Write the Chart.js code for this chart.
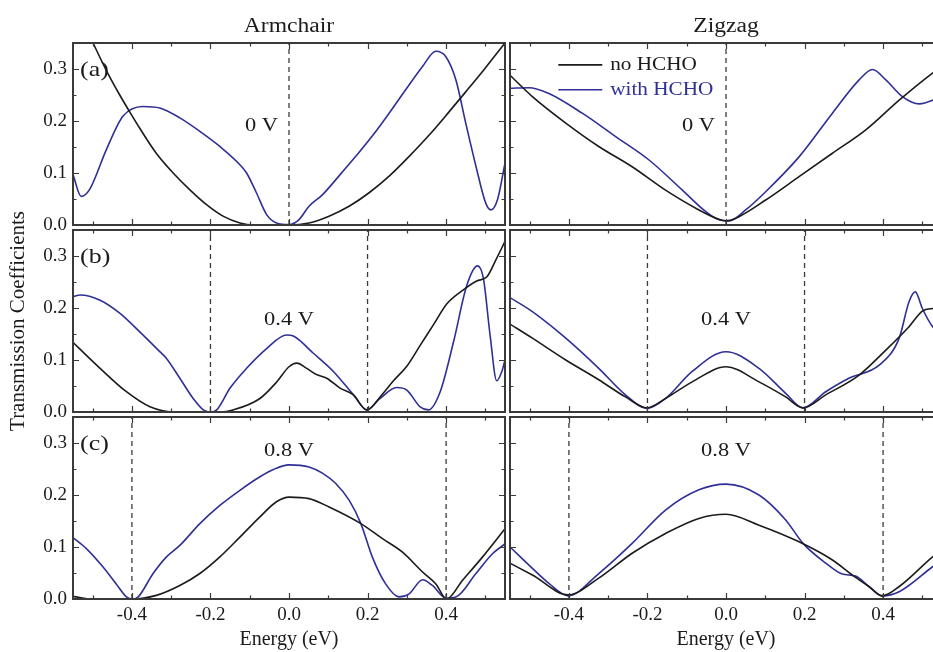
<!DOCTYPE html>
<html>
<head>
<meta charset="utf-8">
<title>Transmission coefficients, armchair / zigzag</title>
<script src="https://cdn.jsdelivr.net/npm/chart.js@4.4.0/dist/chart.umd.min.js"></script>
<style>
    html, body { margin: 0; padding: 0; background: #fff; }
    #wrap { position: relative; width: 933px; height: 652px; overflow: hidden; }
    #wrap canvas { position: absolute; }
</style>
</head>
<body>
<div id="wrap">
    <canvas id="armA"></canvas>
    <canvas id="armC"></canvas>
    <canvas id="armB"></canvas>
    <canvas id="zigA"></canvas>
    <canvas id="zigC"></canvas>
    <canvas id="zigB"></canvas>
</div>
<script>
var serif = '"Liberation Serif", "Times New Roman", serif';
var inkBlack = '#1b1b1b';
var inkBlue = '#2f2f96';
var frameGray = '#3a3a3a';
var textStretch = 1.18;   // the figure's lettering is a bit wide

// axes
var energyMin = -0.55, energyMax = 0.55;
var transMin = 0, transMax = 0.35;
var energyMajorTicks = [-0.4, -0.2, 0, 0.2, 0.4];
var energyMinorTicks = [-0.5, -0.3, -0.1, 0.1, 0.3, 0.5];
var transMajorTicks = [0, 0.1, 0.2, 0.3];
var transMinorTicks = [0.05, 0.15, 0.25];

// text
var columnTitles = ['Armchair', 'Zigzag'];
var panelTags = ['(a)', '(b)', '(c)'];
var biasLabels = ['0 V', '0.4 V', '0.8 V'];
var seriesNames = ['no HCHO', 'with HCHO'];
var energyAxisTitle = 'Energy (eV)';
var transAxisTitle = 'Transmission Coefficients';

// dashed bias window markers
var biasMarks0 = [0];
var biasMarks04 = [-0.2, 0.2];
var biasMarks08 = [-0.4, 0.4];

// ---- Armchair, 0 V
var armA_E_no = [-0.55, -0.499, -0.465, -0.431, -0.406, -0.38, -0.338, -0.295, -0.253, -0.21, -0.168, -0.125, -0.091, -0.04, 0.0, 0.051, 0.102, 0.153, 0.204, 0.255, 0.306, 0.357, 0.408, 0.45, 0.50, 0.55];
var armA_T_no = [0.43, 0.35, 0.297, 0.25, 0.218, 0.186, 0.138, 0.1, 0.068, 0.039, 0.017, 0.004, 0.0, 0.0, 0.0, 0.004, 0.017, 0.036, 0.062, 0.094, 0.132, 0.173, 0.218, 0.256, 0.302, 0.35];
var armA_E_with = [-0.55, -0.529, -0.508, -0.465, -0.423, -0.372, -0.329, -0.278, -0.227, -0.176, -0.125, -0.108, -0.083, -0.057, -0.032, 0.0, 0.025, 0.051, 0.085, 0.127, 0.17, 0.212, 0.255, 0.297, 0.34, 0.374, 0.399, 0.425, 0.45, 0.476, 0.501, 0.514, 0.531, 0.55];
var armA_T_with = [0.097, 0.055, 0.068, 0.145, 0.209, 0.228, 0.225, 0.206, 0.18, 0.151, 0.116, 0.1, 0.062, 0.02, 0.004, 0.001, 0.01, 0.036, 0.058, 0.094, 0.132, 0.171, 0.215, 0.26, 0.305, 0.334, 0.324, 0.279, 0.196, 0.113, 0.042, 0.029, 0.049, 0.119];

// ---- Armchair, 0.4 V
var armB_E_no = [-0.55, -0.481, -0.414, -0.354, -0.295, -0.227, -0.176, -0.142, -0.074, -0.031, 0.0, 0.02, 0.045, 0.07, 0.096, 0.13, 0.164, 0.198, 0.232, 0.266, 0.3, 0.334, 0.368, 0.402, 0.444, 0.478, 0.504, 0.529, 0.55];
var armB_T_no = [0.134, 0.084, 0.039, 0.01, 0.0, 0.0, 0.0, 0.004, 0.026, 0.058, 0.087, 0.094, 0.084, 0.072, 0.065, 0.046, 0.033, 0.004, 0.029, 0.06, 0.088, 0.128, 0.168, 0.208, 0.235, 0.252, 0.26, 0.296, 0.328];
var armB_E_with = [-0.55, -0.532, -0.481, -0.431, -0.38, -0.329, -0.312, -0.278, -0.244, -0.218, -0.2, -0.184, -0.15, -0.108, -0.057, -0.006, 0.011, 0.062, 0.113, 0.164, 0.198, 0.232, 0.274, 0.3, 0.334, 0.355, 0.385, 0.419, 0.453, 0.48, 0.495, 0.512, 0.529, 0.542, 0.55];
var armB_T_with = [0.222, 0.225, 0.215, 0.19, 0.154, 0.116, 0.103, 0.065, 0.026, 0.004, 0.0, 0.004, 0.046, 0.084, 0.122, 0.148, 0.146, 0.113, 0.078, 0.033, 0.004, 0.026, 0.047, 0.042, 0.01, 0.004, 0.039, 0.135, 0.244, 0.281, 0.257, 0.148, 0.06, 0.078, 0.1];

// ---- Armchair, 0.8 V
var armC_E_no = [-0.55, -0.499, -0.45, -0.40, -0.338, -0.278, -0.227, -0.176, -0.125, -0.074, -0.032, 0.0, 0.051, 0.102, 0.183, 0.238, 0.289, 0.34, 0.374, 0.401, 0.442, 0.493, 0.55];
var armC_T_no = [0.005, 0.0, 0.0, 0.0, 0.007, 0.026, 0.049, 0.081, 0.119, 0.158, 0.187, 0.196, 0.193, 0.177, 0.145, 0.116, 0.09, 0.052, 0.029, 0.0, 0.036, 0.081, 0.135];
var armC_E_with = [-0.55, -0.516, -0.474, -0.44, -0.414, -0.397, -0.384, -0.346, -0.312, -0.278, -0.227, -0.176, -0.125, -0.074, -0.04, 0.0, 0.051, 0.085, 0.119, 0.153, 0.183, 0.212, 0.246, 0.28, 0.306, 0.34, 0.365, 0.399, 0.425, 0.476, 0.518, 0.55];
var armC_T_with = [0.118, 0.097, 0.062, 0.029, 0.004, 0.0, 0.004, 0.049, 0.081, 0.103, 0.145, 0.18, 0.209, 0.235, 0.249, 0.258, 0.254, 0.242, 0.222, 0.19, 0.145, 0.081, 0.029, 0.004, 0.01, 0.037, 0.026, 0.002, 0.004, 0.049, 0.087, 0.106];

// ---- Zigzag, 0 V
var zigA_E_no = [-0.55, -0.493, -0.408, -0.324, -0.239, -0.154, -0.069, -0.018, 0.0, 0.033, 0.101, 0.186, 0.271, 0.356, 0.441, 0.526, 0.56];
var zigA_T_no = [0.288, 0.247, 0.196, 0.151, 0.112, 0.067, 0.029, 0.011, 0.008, 0.016, 0.048, 0.093, 0.138, 0.183, 0.24, 0.292, 0.31];
var zigA_E_with = [-0.55, -0.502, -0.451, -0.366, -0.281, -0.196, -0.111, -0.052, -0.018, 0.008, 0.05, 0.101, 0.186, 0.271, 0.339, 0.373, 0.407, 0.449, 0.492, 0.526, 0.55];
var zigA_T_with = [0.263, 0.264, 0.253, 0.215, 0.17, 0.125, 0.067, 0.026, 0.01, 0.008, 0.029, 0.064, 0.131, 0.215, 0.279, 0.299, 0.279, 0.247, 0.233, 0.24, 0.25];

// ---- Zigzag, 0.4 V
var zigB_E_no = [-0.55, -0.493, -0.408, -0.324, -0.256, -0.201, -0.154, -0.086, 0.0, 0.084, 0.152, 0.196, 0.254, 0.339, 0.407, 0.466, 0.5, 0.526, 0.55];
var zigB_T_no = [0.169, 0.142, 0.1, 0.062, 0.029, 0.008, 0.026, 0.058, 0.087, 0.058, 0.029, 0.008, 0.033, 0.071, 0.119, 0.164, 0.194, 0.199, 0.2];
var zigB_E_with = [-0.55, -0.493, -0.408, -0.324, -0.256, -0.201, -0.154, -0.086, 0.0, 0.084, 0.152, 0.196, 0.254, 0.313, 0.39, 0.441, 0.466, 0.482, 0.5, 0.526, 0.55];
var zigB_T_with = [0.22, 0.193, 0.142, 0.084, 0.033, 0.007, 0.026, 0.078, 0.116, 0.084, 0.036, 0.008, 0.039, 0.065, 0.09, 0.142, 0.212, 0.231, 0.199, 0.164, 0.15];

// ---- Zigzag, 0.8 V
var zigC_E_no = [-0.55, -0.493, -0.402, -0.324, -0.239, -0.154, -0.069, 0.0, 0.084, 0.186, 0.271, 0.322, 0.364, 0.398, 0.441, 0.526, 0.55];
var zigC_T_no = [0.069, 0.046, 0.008, 0.04, 0.088, 0.126, 0.155, 0.163, 0.142, 0.11, 0.075, 0.046, 0.024, 0.006, 0.024, 0.081, 0.095];
var zigC_E_with = [-0.55, -0.493, -0.451, -0.402, -0.324, -0.239, -0.154, -0.069, 0.0, 0.084, 0.152, 0.196, 0.254, 0.296, 0.33, 0.364, 0.398, 0.441, 0.526, 0.55];
var zigC_T_with = [0.1, 0.059, 0.03, 0.006, 0.049, 0.107, 0.171, 0.21, 0.221, 0.2, 0.152, 0.107, 0.069, 0.048, 0.044, 0.024, 0.006, 0.014, 0.062, 0.075];


function toPoints(es, ts) {
    return es.map(function (e, i) {
        return {x: e, y: ts[i]};
    });
}

function wideText(ctx, text, px, py, align, size, color) {
    ctx.save();
    ctx.font = size + 'px ' + serif;
    ctx.fillStyle = color;
    ctx.textAlign = align;
    ctx.textBaseline = 'middle';
    ctx.translate(px, py);
    ctx.scale(textStretch, 1);
    ctx.fillText(text, 0, 0);
    ctx.restore();
}

// frame, inward ticks on four sides, and the panel lettering
var panelDecor = {
    id: 'panelDecor',
    afterDatasetsDraw: function (chart, args, opts) {
        var ctx = chart.ctx, a = chart.chartArea;
        var xs = chart.scales.x, ys = chart.scales.y;
        ctx.save();
        ctx.strokeStyle = frameGray;
        ctx.lineWidth = 1.2;
        ctx.beginPath();
        energyMajorTicks.concat(energyMinorTicks).forEach(function (v) {
            var px = Math.round(xs.getPixelForValue(v)) + 0.5;
            var len = energyMajorTicks.indexOf(v) >= 0 ? 6 : 3.5;
            ctx.moveTo(px, a.bottom); ctx.lineTo(px, a.bottom - len);
            ctx.moveTo(px, a.top); ctx.lineTo(px, a.top + len);
        });
        transMajorTicks.concat(transMinorTicks).forEach(function (v) {
            if (v === 0) return;
            var py = Math.round(ys.getPixelForValue(v)) + 0.5;
            var len = transMajorTicks.indexOf(v) >= 0 ? 6 : 3.5;
            ctx.moveTo(a.left, py); ctx.lineTo(a.left + len, py);
            ctx.moveTo(a.right, py); ctx.lineTo(a.right - len, py);
        });
        ctx.stroke();
        ctx.lineWidth = 2;
        ctx.strokeRect(a.left, a.top, a.right - a.left, a.bottom - a.top);
        ctx.restore();
    },
    afterDraw: function (chart, args, opts) {
        var ctx = chart.ctx, a = chart.chartArea;
        var xs = chart.scales.x, ys = chart.scales.y;
        if (opts.title) {
            wideText(ctx, opts.title, (a.left + a.right) / 2, a.top - 16, 'center', 20, inkBlack);
        }
        if (opts.tag) {
            wideText(ctx, opts.tag, xs.getPixelForValue(-0.532), ys.getPixelForValue(0.298), 'left', 22, inkBlack);
        }
        if (opts.bias) {
            wideText(ctx, opts.bias, xs.getPixelForValue(opts.biasAt[0]), ys.getPixelForValue(opts.biasAt[1]),
                opts.biasAlign, 19, inkBlack);
        }
        if (opts.legend) {
            var x0 = xs.getPixelForValue(-0.427), x1 = xs.getPixelForValue(-0.315), xt = xs.getPixelForValue(-0.295);
            var rows = [[0.308, inkBlack, seriesNames[0]], [0.26, inkBlue, seriesNames[1]]];
            rows.forEach(function (r) {
                var py = ys.getPixelForValue(r[0]);
                ctx.save();
                ctx.strokeStyle = r[1];
                ctx.lineWidth = 1.6;
                ctx.beginPath();
                ctx.moveTo(x0, py); ctx.lineTo(x1, py);
                ctx.stroke();
                ctx.restore();
                wideText(ctx, r[2], xt, py, 'left', 18, r[1]);
            });
        }
    }
};
Chart.register(panelDecor);

function buildPanel(canvasId, cfg) {
    var el = document.getElementById(canvasId);
    el.width = cfg.w;
    el.height = cfg.h;
    el.style.left = cfg.left + 'px';
    el.style.top = cfg.top + 'px';

    var datasets = [];
    datasets.push({
        label: seriesNames[0],
        data: toPoints(cfg.noE, cfg.noT),
        borderColor: inkBlack,
        borderWidth: 1.6,
        pointRadius: 0,
        cubicInterpolationMode: 'monotone'
    });
    datasets.push({
        label: seriesNames[1],
        data: toPoints(cfg.withE, cfg.withT),
        borderColor: inkBlue,
        borderWidth: 1.6,
        pointRadius: 0,
        cubicInterpolationMode: 'monotone'
    });
    cfg.marks.forEach(function (m) {
        datasets.push({
            label: 'bias',
            data: [{x: m, y: transMin}, {x: m, y: transMax}],
            borderColor: frameGray,
            borderWidth: 1.3,
            borderDash: [5, 4],
            pointRadius: 0
        });
    });

    return new Chart(el, {
        type: 'line',
        data: {datasets: datasets},
        options: {
            responsive: false,
            animation: false,
            devicePixelRatio: 1,
            layout: {padding: cfg.pad},
            plugins: {
                legend: {display: false},
                tooltip: {enabled: false},
                panelDecor: cfg.decor
            },
            scales: {
                x: {
                    type: 'linear',
                    min: energyMin,
                    max: energyMax,
                    grid: {display: false, drawTicks: false},
                    border: {display: false},
                    afterBuildTicks: function (s) {
                        s.ticks = energyMajorTicks.map(function (v) { return {value: v}; });
                    },
                    ticks: {
                        display: cfg.showX,
                        padding: 5,
                        maxRotation: 0,
                        autoSkip: false,
                        color: inkBlack,
                        font: {family: serif, size: 19},
                        callback: function (v) { return v.toFixed(1); }
                    },
                    title: {
                        display: cfg.showX,
                        text: energyAxisTitle,
                        color: inkBlack,
                        font: {family: serif, size: 20},
                        padding: {top: 0, bottom: 0}
                    },
                    afterFit: function (s) {
                        s.height = cfg.xAxisH;
                        s.paddingLeft = 0; s.paddingRight = 0;
                    }
                },
                y: {
                    type: 'linear',
                    min: transMin,
                    max: transMax,
                    grid: {display: false, drawTicks: false},
                    border: {display: false},
                    afterBuildTicks: function (s) {
                        s.ticks = transMajorTicks.map(function (v) { return {value: v}; });
                    },
                    ticks: {
                        display: cfg.showY,
                        padding: 6,
                        color: inkBlack,
                        font: {family: serif, size: 19},
                        callback: function (v) { return v.toFixed(1); }
                    },
                    title: {
                        display: !!cfg.yTitle,
                        text: transAxisTitle,
                        color: inkBlack,
                        font: {family: serif, size: 21},
                        padding: {top: 6, bottom: 0}
                    },
                    afterFit: function (s) {
                        s.width = cfg.yAxisW;
                        s.paddingTop = 0; s.paddingBottom = 0;
                    }
                }
            }
        }
    });
}

// column / row boxes (the middle row canvas is tall so the rotated axis title fits)
var leftCol = {left: 0, w: 510, yAxisW: 73, padL: 0, padR: 5, showY: true};
var rightCol = {left: 505, w: 445, yAxisW: 5, padL: 0, padR: 8, showY: false};
var rowA = {top: 0, h: 230, padT: 43, padB: 5, xAxisH: 0, showX: false};
var rowB = {top: 120, h: 402, padT: 110, padB: 110, xAxisH: 0, showX: false};
var rowC = {top: 412, h: 240, padT: 5, padB: 0, xAxisH: 53, showX: true};

function panelBox(col, row) {
    return {
        left: col.left, w: col.w, yAxisW: col.yAxisW, showY: col.showY,
        top: row.top, h: row.h, xAxisH: row.xAxisH, showX: row.showX,
        pad: {left: col.padL, right: col.padR, top: row.padT, bottom: row.padB}
    };
}

function withData(box, extra) {
    for (var k in extra) box[k] = extra[k];
    return box;
}

buildPanel('armA', withData(panelBox(leftCol, rowA), {
    noE: armA_E_no, noT: armA_T_no, withE: armA_E_with, withT: armA_T_with, marks: biasMarks0,
    decor: {title: columnTitles[0], tag: panelTags[0], bias: biasLabels[0], biasAt: [-0.028, 0.19], biasAlign: 'right'}
}));
buildPanel('armB', withData(panelBox(leftCol, rowB), {
    noE: armB_E_no, noT: armB_T_no, withE: armB_E_with, withT: armB_T_with, marks: biasMarks04, yTitle: true,
    decor: {tag: panelTags[1], bias: biasLabels[1], biasAt: [0, 0.177], biasAlign: 'center'}
}));
buildPanel('armC', withData(panelBox(leftCol, rowC), {
    noE: armC_E_no, noT: armC_T_no, withE: armC_E_with, withT: armC_T_with, marks: biasMarks08,
    decor: {tag: panelTags[2], bias: biasLabels[2], biasAt: [0, 0.284], biasAlign: 'center'}
}));
buildPanel('zigA', withData(panelBox(rightCol, rowA), {
    noE: zigA_E_no, noT: zigA_T_no, withE: zigA_E_with, withT: zigA_T_with, marks: biasMarks0,
    decor: {title: columnTitles[1], bias: biasLabels[0], biasAt: [-0.028, 0.19], biasAlign: 'right', legend: true}
}));
buildPanel('zigB', withData(panelBox(rightCol, rowB), {
    noE: zigB_E_no, noT: zigB_T_no, withE: zigB_E_with, withT: zigB_T_with, marks: biasMarks04,
    decor: {bias: biasLabels[1], biasAt: [0, 0.177], biasAlign: 'center'}
}));
buildPanel('zigC', withData(panelBox(rightCol, rowC), {
    noE: zigC_E_no, noT: zigC_T_no, withE: zigC_E_with, withT: zigC_T_with, marks: biasMarks08,
    decor: {bias: biasLabels[2], biasAt: [0, 0.284], biasAlign: 'center'}
}));
</script>
</body>
</html>
